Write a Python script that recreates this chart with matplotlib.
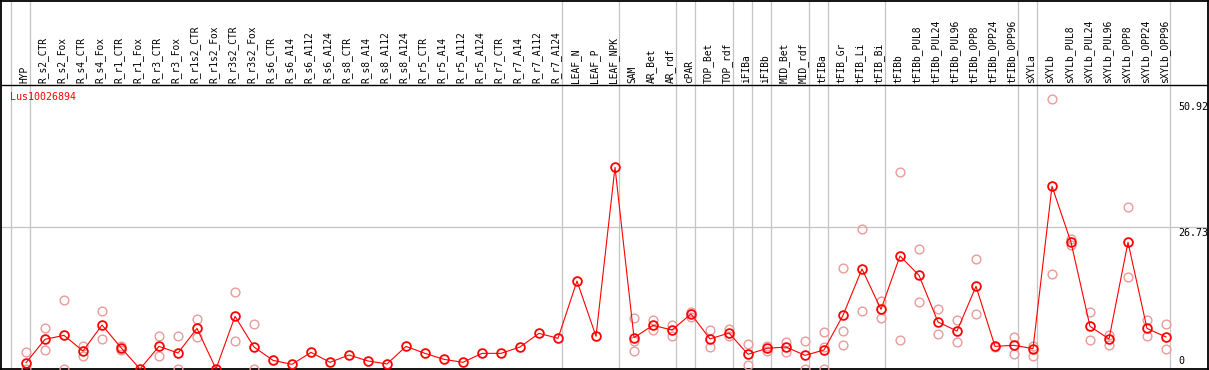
import numpy as np
import matplotlib
matplotlib.use("Agg")
import matplotlib.pyplot as plt

# sample names (x axis, top)
categories = [
    "HYP", "R_s2_CTR", "R_s2_Fox", "R_s4_CTR", "R_s4_Fox", "R_r1_CTR", "R_r1_Fox",
    "R_r3_CTR", "R_r3_Fox", "R_r1s2_CTR", "R_r1s2_Fox", "R_r3s2_CTR", "R_r3s2_Fox",
    "R_s6_CTR", "R_s6_A14", "R_s6_A112", "R_s6_A124", "R_s8_CTR", "R_s8_A14",
    "R_s8_A112", "R_s8_A124", "R_r5_CTR", "R_r5_A14", "R_r5_A112", "R_r5_A124",
    "R_r7_CTR", "R_r7_A14", "R_r7_A112", "R_r7_A124", "LEAF_N", "LEAF_P", "LEAF_NPK",
    "SAM", "AR_Bet", "AR_rdf", "cPAR", "TOP_Bet", "TOP_rdf", "iFIBa", "iFIBb",
    "MID_Bet", "MID_rdf", "tFIBa", "tFIB_Gr", "tFIB_Li", "tFIB_Bi", "tFIBb",
    "tFIBb_PUL8", "tFIBb_PUL24", "tFIBb_PUL96", "tFIBb_OPP8", "tFIBb_OPP24",
    "tFIBb_OPP96", "sXYLa", "sXYLb", "sXYLb_PUL8", "sXYLb_PUL24", "sXYLb_PUL96",
    "sXYLb_OPP8", "sXYLb_OPP24", "sXYLb_OPP96",
]

nan = np.nan

# mean expression per sample
mean_vals = [
    1.19, 5.6, 6.35, 3.4, 8.3, 4.03, 0, 4.27, 3.02, 7.66, 0, 9.94, 4.15,
    1.63, 0.88, 3.14, 1.26, 2.64, 1.51, 0.95, 4.27, 2.95, 1.82, 1.26, 2.95,
    2.95, 4.15, 6.73, 5.79, 16.6, 6.17, 38.05,
    5.92, 8.24, 7.36, 10.38, 5.67, 6.79, 2.77, 3.9, 4.15, 2.58, 3.59, 10.13,
    18.87, 11.26, 21.32, 17.67, 8.87, 7.17, 15.6, 4.27, 4.47, 3.84, 34.47,
    23.91, 8.05, 5.67, 23.91, 7.66, 6.04,
]

# replicate values
rep_hi = [
    3.2, 7.73, 13.0, 4.33, 10.95, 4.33, nan, 6.17, 6.17, 9.37, nan, 14.62, 8.43,
    nan, nan, nan, nan, nan, nan, nan, nan, nan, nan, nan, nan,
    nan, nan, nan, nan, nan, nan, nan,
    9.57, 9.24, 8.24, 10.82, 7.36, 7.49, 4.66, 4.33, 5.04, 5.22, 6.92, 19.0,
    26.36, 12.83, 37.1, 22.58, 11.26, 9.24, 20.69, 4.09, 6.04, 4.33, 50.92,
    24.49, 10.69, 6.41, 30.51, 9.24, 8.43,
]
rep_lo = [
    0, 3.53, 0, 2.52, 5.6, 3.53, nan, 2.39, 0, 5.98, nan, 5.22, 0,
    nan, nan, nan, nan, nan, nan, nan, nan, nan, nan, nan, nan,
    nan, nan, nan, nan, nan, nan, nan,
    3.4, 7.3, 6.23, 9.88, 4.09, 6.29, 0.82, 3.46, 3.27, 0, 4.21, 7.11,
    10.95, 9.68, 5.41, 12.58, 6.54, 5.04, 10.38, nan, 2.77, 2.52, 17.86,
    23.33, 5.47, 4.53, 17.36, 6.29, 3.71,
]
rep_mid = [nan] * 61
rep_mid[32] = 5.34
rep_mid[42] = 0
rep_mid[43] = 4.47

# group separators (after these sample indices)
separators = [-1, 0, 28, 31, 34, 35, 37, 38, 39, 41, 42, 45, 52, 53, 60]

gene = "Lus10026894"
y_max = 50.92
y_mid = 26.73

x = np.arange(len(categories))

fig = plt.figure(figsize=(12.09, 3.70), dpi=100)
ax = fig.add_axes([1 / 1209, 1 / 370, 1207 / 1209, 368 / 370])
ax.set_xlim((1 - 26) / 19, (1208 - 26) / 19)
px = 5.30  # pixels per unit
ax.set_ylim(0, 368 / px)
ax.set_xticks([])
ax.set_yticks([])
for s in ax.spines.values():
    s.set_linewidth(1.3)
    s.set_color("black")

head_y = (369 - 85) / px

for sep in separators:
    ax.axvline(sep + 0.23, color="#c4c4c4", lw=0.9, zorder=1)
ax.axhline(y_mid, color="#c4c4c4", lw=0.9, zorder=1)
ax.axhline(head_y, color="black", lw=1.0, zorder=2)

mono = "DejaVu Sans Mono"
label_y = (369 - 83) / px
for i, name in enumerate(categories):
    ax.text(i - 0.1, label_y, name, rotation=90, ha="center", va="bottom",
            fontsize=6.9, family=mono, color="black")

ax.text((10 - 26) / 19, (369 - 97) / px, gene, ha="left", va="center",
        fontsize=7.2, family=mono, color="red")

ty = 60.63
ax.text(ty, (369 - 106.5) / px, f"{y_max:.2f}", ha="left", va="center", fontsize=7.2, family=mono)
ax.text(ty, (369 - 232.5) / px, f"{y_mid:.2f}", ha="left", va="center", fontsize=7.2, family=mono)
ax.text(ty, (369 - 361.5) / px, "0", ha="left", va="center", fontsize=7.2, family=mono)

pink = "#e99a9a"
for reps in (rep_hi, rep_lo, rep_mid):
    ax.plot(x, reps, ls="none", marker="o", ms=6.3, mfc="none", mec=pink, mew=1.0, zorder=3)

ax.plot(x, mean_vals, color="red", lw=0.8, marker="o", ms=6.3, mfc="none",
        mec="red", mew=1.3, zorder=4)

fig.savefig("out.png", dpi=100)
